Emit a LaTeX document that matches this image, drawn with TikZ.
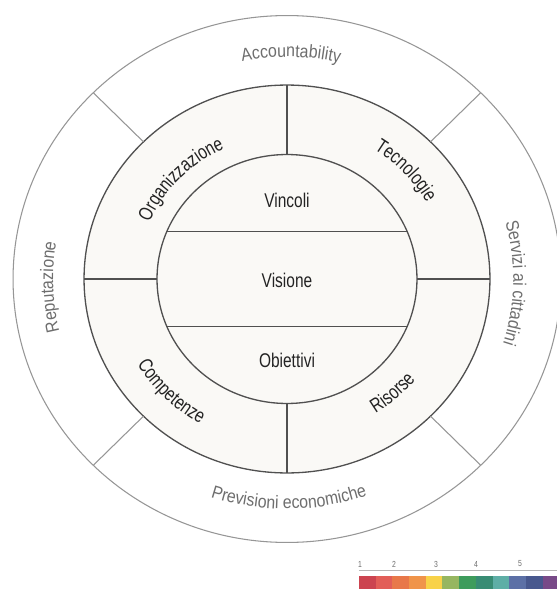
\documentclass[tikz,border=0pt]{standalone}
\usepackage{fontspec}
\setmainfont{Liberation Sans}[FakeStretch=0.78]
\newfontfamily\outfont{Liberation Sans}[FakeStretch=0.88]
\usetikzlibrary{positioning,shapes.geometric,decorations.text}

\definecolor{ringline}{RGB}{80,80,80}
\definecolor{outline}{RGB}{150,150,150}
\definecolor{ringfill}{RGB}{250,249,246}
\definecolor{textdark}{RGB}{35,35,35}
\definecolor{textgray}{RGB}{110,110,110}
\definecolor{bar1}{RGB}{204,68,80}
\definecolor{bar2}{RGB}{226,94,88}
\definecolor{bar3}{RGB}{232,120,74}
\definecolor{bar4}{RGB}{240,148,74}
\definecolor{bar5}{RGB}{248,210,72}
\definecolor{bar6}{RGB}{150,182,96}
\definecolor{bar7}{RGB}{62,156,92}
\definecolor{bar8}{RGB}{56,140,116}
\definecolor{bar9}{RGB}{94,174,166}
\definecolor{bar10}{RGB}{92,112,166}
\definecolor{bar11}{RGB}{72,88,142}
\definecolor{bar12}{RGB}{120,74,136}

\tikzset{
  ring/.style={draw=ringline,line width=0.75pt,ellipse,outer sep=0pt,inner sep=0pt},
  midtext/.style={font=\fontsize{11.3}{13}\selectfont,text=textdark,inner sep=0pt},
  midlabel/.style={decorate,decoration={text along path,text align=center,
      text={|\fontsize{11.3}{13}\selectfont\color{textdark}|#1}}},
  outlabel/.style={decorate,decoration={text along path,text align=center,
      text={|\outfont\fontsize{10.3}{12}\selectfont\color{textgray}|#1}}},
  scalenum/.style={font=\fontsize{5}{6}\selectfont,text=textgray,inner sep=0pt}
}

\begin{document}
\begin{tikzpicture}[x=0.02cm,y=0.02cm]
    \clip (-287,-310) rectangle (270,279);
    \fill[white] (-287,-310) rectangle (270,279);

    % rings
    \node[ring,draw=outline,line width=0.6pt,fill=white,minimum width=10.96cm,minimum height=10.54cm](outer)at(0,0){};
    \node[ring,fill=ringfill,minimum width=8.12cm,minimum height=7.76cm](mid)at(0,0){};
    \node[ring,fill=ringfill,minimum width=5.2cm,minimum height=4.98cm](inner)at(0,0){};

    % chord ends and diagonal ends
    \coordinate (c1) at (22.43:130 and 124.5);
    \coordinate (c2) at (157.57:130 and 124.5);
    \coordinate (c3) at (202.43:130 and 124.5);
    \coordinate (c4) at (337.57:130 and 124.5);

    % dividers
    \foreach \a in {north,south,east,west}
        \draw[ringline,line width=0.75pt] (inner.\a) -- (mid.\a);
    \foreach \a in {45,135,225,315}
        \draw[outline,line width=0.6pt] (\a:203 and 194) -- (\a:274 and 263.5);
    \draw[ringline,line width=0.75pt] (c1) -- (c2);
    \draw[ringline,line width=0.75pt] (c3) -- (c4);

    % centre
    \node[midtext](vincoli)at(0,78.3){Vincoli};
    \node[midtext](visione)at(0,-1){Visione};
    \node[midtext](obiettivi)at(0,-81){Obiettivi};

    % middle ring
    \path[midlabel=Organizzazione] (176:149.8 and 143.5) arc [start angle=176,end angle=96,x radius=149.8,y radius=143.5];
    \path[midlabel=Tecnologie] (83:160.8 and 154) arc [start angle=83,end angle=3,x radius=160.8,y radius=154];
    \path[midlabel=Competenze] (185:174.3 and 167) arc [start angle=185,end angle=265,x radius=174.3,y radius=167];
    \path[midlabel=Risorse] (272:166 and 159) arc [start angle=272,end angle=352,x radius=166,y radius=159];

    % outer ring
    \path[outlabel=Accountability] (129:231.8 and 222) arc [start angle=129,end angle=49,x radius=231.8,y radius=222];
    \path[outlabel=Servizi ai cittadini] (39:226.3 and 216.8) arc [start angle=39,end angle=-41,x radius=226.3,y radius=216.8];
    \path[outlabel=Previsioni economiche] (230.5:240 and 230) arc [start angle=230.5,end angle=310.5,x radius=240,y radius=230];
    \path[outlabel=Reputazione] (222:233.9 and 224) arc [start angle=222,end angle=142,x radius=233.9,y radius=224];

    % scale
    \foreach \i in {1,...,12}
        \fill[bar\i] (55.3+16.7*\i,-297) rectangle ++(16.7,-15);
    \draw[outline!70,line width=0.4pt] (72,-291.7) -- (270,-291.7);
    \foreach \n/\xx in {1/73,2/107,3/149,4/189,5/233}
        \node[scalenum](n\n)at(\xx,-285){\n};
\end{tikzpicture}
\end{document}
